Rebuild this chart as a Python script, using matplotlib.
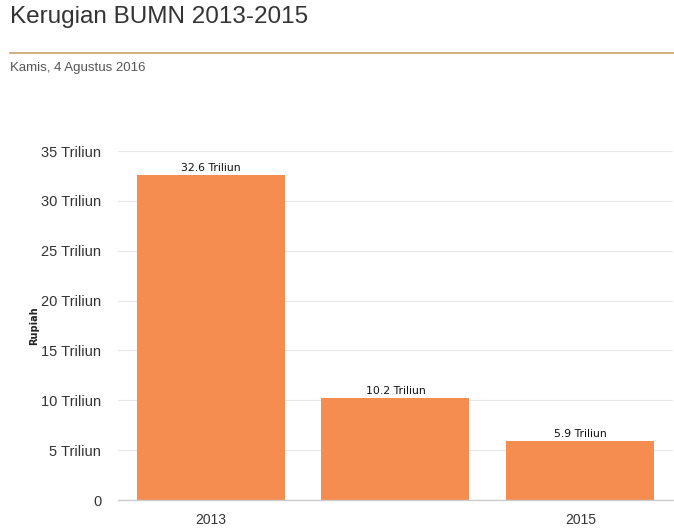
import matplotlib
matplotlib.use("Agg")
import matplotlib.pyplot as plt
from matplotlib.lines import Line2D

years = ["2013", "2014", "2015"]
losses = [32.6, 10.2, 5.9]
bar_labels = ["32.6 Triliun", "10.2 Triliun", "5.9 Triliun"]
xtick_labels = ["2013", "", "2015"]
yticks = [0, 5, 10, 15, 20, 25, 30, 35]
ytick_labels = ["0", "5 Triliun", "10 Triliun", "15 Triliun", "20 Triliun",
                "25 Triliun", "30 Triliun", "35 Triliun"]

W, H = 674, 529
fig = plt.figure(figsize=(W / 100, H / 100), dpi=100)
fig.patch.set_facecolor("white")

# axes: left 118, right 673, top 151, bottom 500 (pixels)
ax = fig.add_axes([118 / W, (H - 500) / H, (673 - 118) / W, (500 - 151) / H])
x = range(len(years))
bars = ax.bar(x, losses, width=0.8, color="#F48D4F", zorder=3)
ax.set_xlim(-0.5, 2.5)
ax.set_ylim(0, 35)
ax.set_yticks(yticks)
ax.set_yticklabels(ytick_labels, fontsize=10.5, color="#333333", family="Liberation Sans")
ax.set_xticks(list(x))
ax.set_xticklabels(xtick_labels, fontsize=10, color="#333333", family="Liberation Sans")
ax.tick_params(axis="y", length=0, pad=12)
ax.tick_params(axis="x", length=0, pad=9)
ax.grid(axis="y", color="#e8e8e8", linewidth=0.8, zorder=0)
for s in ["top", "right", "left"]:
    ax.spines[s].set_visible(False)
ax.spines["bottom"].set_color("#cccccc")
ax.spines["bottom"].set_linewidth(1)
ax.spines["bottom"].set_zorder(4)

for rect, lab in zip(bars, bar_labels):
    ax.text(rect.get_x() + rect.get_width() / 2, rect.get_height() + 0.2, lab,
            ha="center", va="bottom", fontsize=7.8, color="#111111", zorder=5)

ax.set_ylabel("Rupiah", fontsize=7, fontweight="bold", color="#222222")
ax.yaxis.set_label_coords(-0.143, 0.5)

fig.text(10 / W, 1 - 17 / H, "Kerugian BUMN 2013-2015", fontsize=17.5, color="#333333",
         ha="left", va="center", family="Liberation Sans")
fig.add_artist(Line2D([10 / W, 1.0], [1 - 53 / H, 1 - 53 / H], color="#C9A26B",
                      linewidth=1.2, transform=fig.transFigure))
fig.text(10 / W, 1 - 68 / H, "Kamis, 4 Agustus 2016", fontsize=9.5, color="#555555",
         ha="left", va="center", family="Liberation Sans")

fig.savefig("out.png", dpi=100)
